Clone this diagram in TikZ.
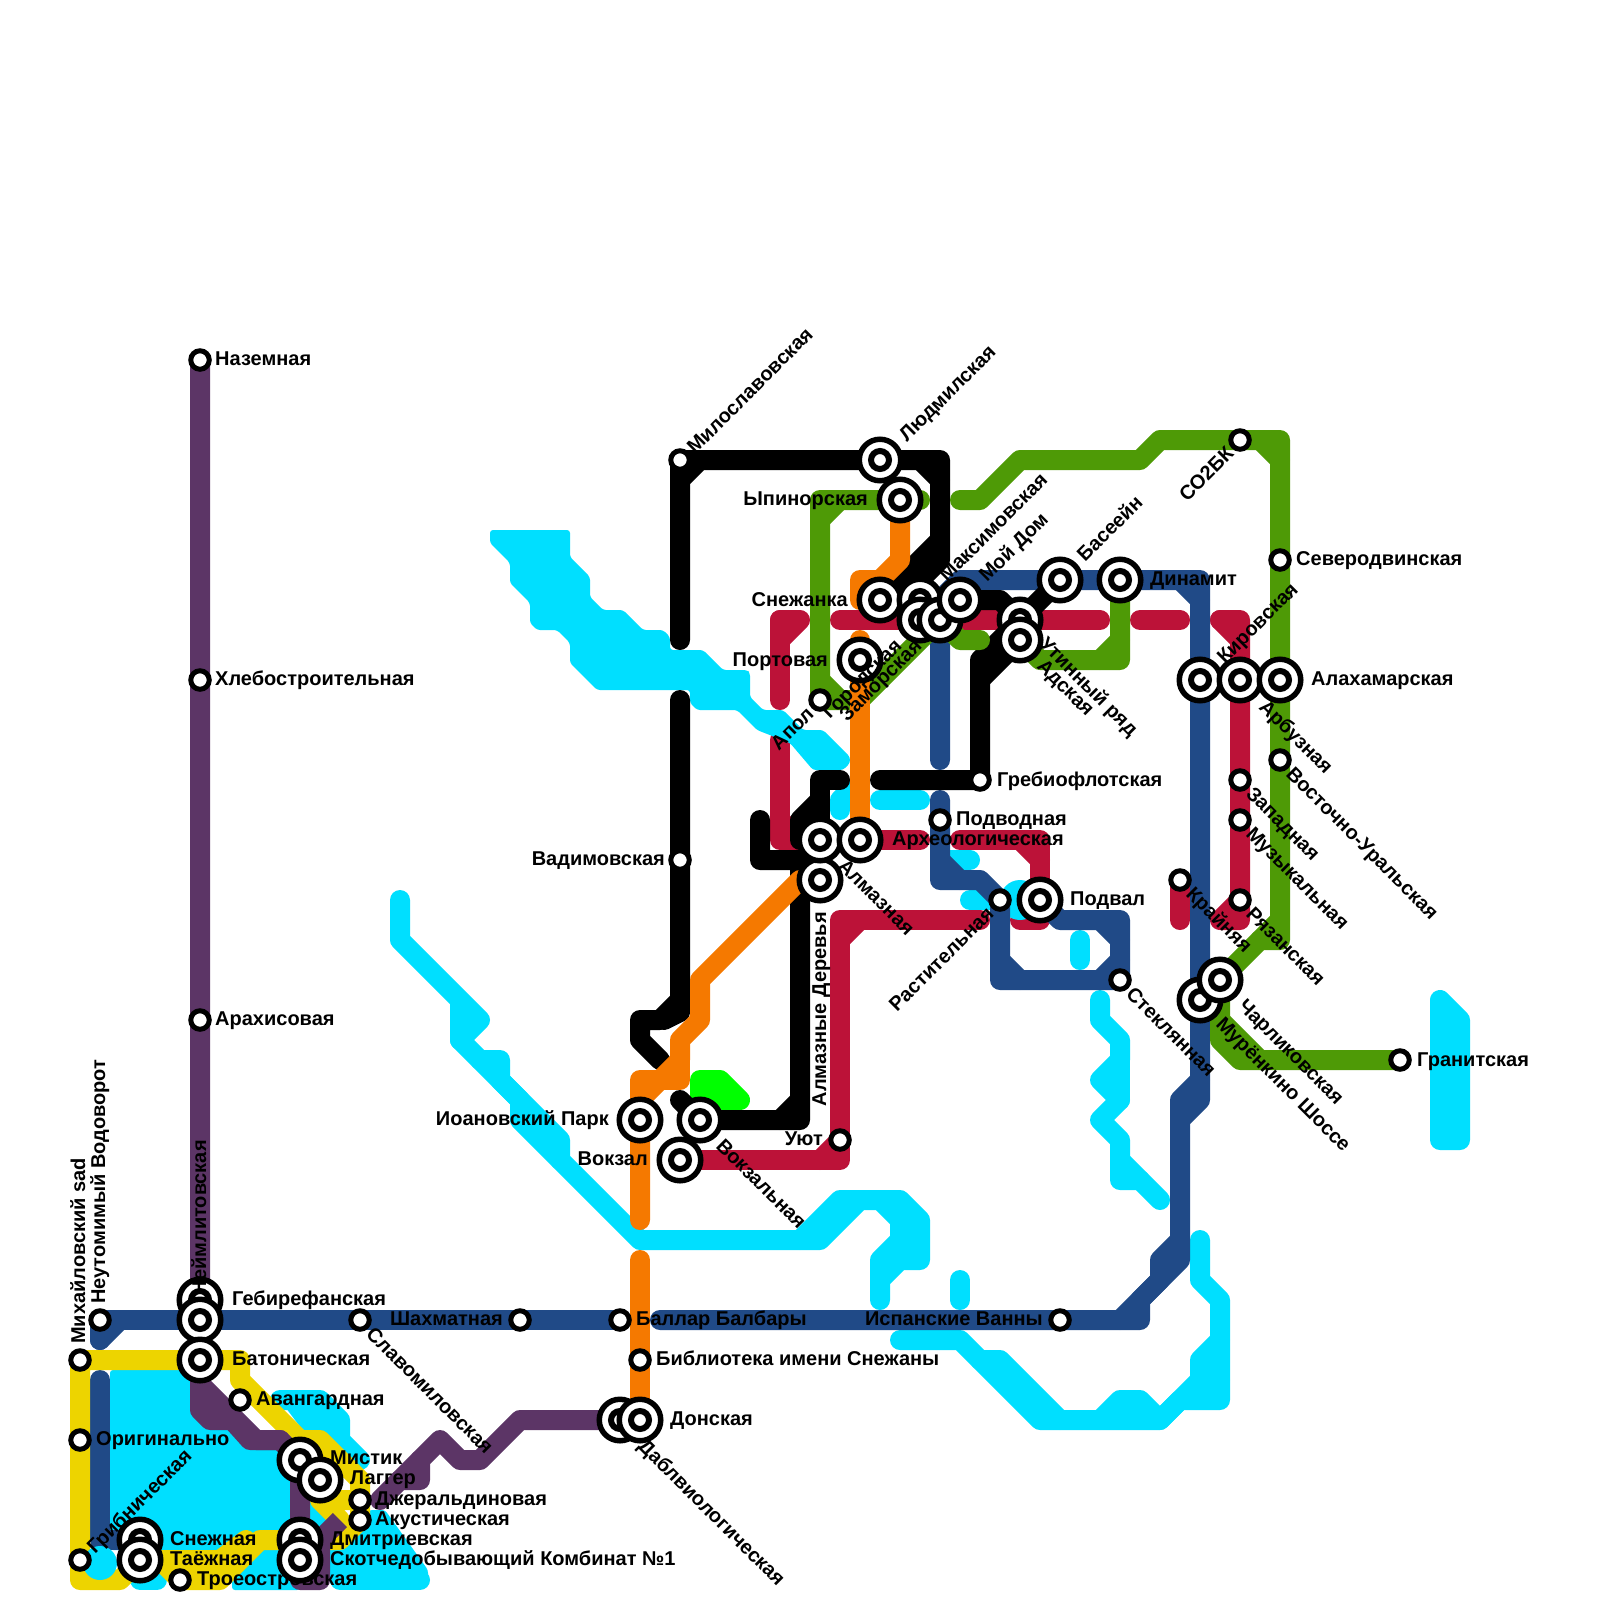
\documentclass[tikz,border=0pt]{standalone}
\usepackage{fontspec}
\setmainfont{Liberation Sans}
\usetikzlibrary{backgrounds}
\definecolor{lineblue}{RGB}{32,74,135}
\definecolor{linecrimson}{RGB}{188,18,56}
\definecolor{lineyellow}{RGB}{237,212,0}
\definecolor{linepurple}{RGB}{92,53,102}
\definecolor{linegreen}{RGB}{78,154,6}
\definecolor{lineorange}{RGB}{245,121,0}
\definecolor{linelime}{RGB}{0,255,0}
\definecolor{water}{RGB}{0,223,255}
\tikzset{
  metro/.style={line width=20pt,line cap=round,line join=round},
  basin/.style={fill=water,rounded corners=3pt},
  stn/.style={circle,draw=black,fill=white,line width=5pt,inner sep=0pt,minimum size=18.5pt},
  xchg/.style={circle,draw=black,fill=white,line width=5.5pt,inner sep=0pt,minimum size=41.5pt,
    path picture={\draw[line width=6pt,fill=white] (path picture bounding box.center) circle (9pt);}},
  lbl/.style={font=\fontsize{20}{20}\selectfont\bfseries,inner sep=0pt,text height=14pt,text depth=0pt},
}
\begin{document}
\begin{tikzpicture}[x=1pt,y=-1pt]
  \useasboundingbox (0,0) rectangle (1600,1600);
  %% Stations and labels: west side
  \node[stn] (nazemnaya) at (200,360) {};
  \node[lbl,anchor=west] (nazemnayaT) at (215,358) {Наземная};
  \node[stn] (hleb) at (200,680) {};
  \node[lbl,anchor=west] (hlebT) at (215,678) {Хлебостроительная};
  \node[stn] (arahis) at (200,1020) {};
  \node[lbl,anchor=west] (arahisT) at (215,1018) {Арахисовая};
  \node[xchg] (gebir) at (200,1300) {};
  \node[lbl,anchor=west] (gebirT) at (232,1298) {Гебирефанская};
  \node[lbl,rotate=90,anchor=east] (neymT) at (199,1140) {Неймлитовская};
  \node[xchg] (neym) at (200,1320) {};
  \node[xchg] (baton) at (200,1360) {};
  \node[lbl,anchor=west] (batonT) at (232,1358) {Батоническая};
  \node[stn] (neutom) at (100,1320) {};
  \node[lbl,rotate=90,anchor=west] (neutomT) at (98,1304) {Неутомимый Водоворот};
  \node[stn] (mihail) at (80,1360) {};
  \node[lbl,rotate=90,anchor=west] (mihailT) at (78,1344) {Михайловский sad};
  \node[stn] (origin) at (80,1440) {};
  \node[lbl,anchor=west] (originT) at (96,1438) {Оригинально};
  \node[stn] (gribn) at (80,1560) {};
  \node[lbl,rotate=45,anchor=west] (gribnT) at (90,1550) {Грибническая};
  \node[stn] (avang) at (240,1400) {};
  \node[lbl,anchor=west] (avangT) at (256,1398) {Авангардная};
  \node[xchg] (mistik) at (300,1460) {};
  \node[lbl,anchor=west] (mistikT) at (330,1457) {Мистик};
  \node[xchg] (lagger) at (320,1480) {};
  \node[lbl,anchor=west] (laggerT) at (350,1477) {Лаггер};
  \node[stn] (dzher) at (360,1500) {};
  \node[lbl,anchor=west] (dzherT) at (375,1498) {Джеральдиновая};
  \node[stn] (akust) at (360,1520) {};
  \node[lbl,anchor=west] (akustT) at (375,1518) {Акустическая};
  \node[xchg] (snezh) at (140,1540) {};
  \node[lbl,anchor=west] (snezhT) at (170,1538) {Снежная};
  \node[xchg] (taezh) at (140,1560) {};
  \node[lbl,anchor=west] (taezhT) at (170,1558) {Таёжная};
  \node[stn] (troe) at (180,1580) {};
  \node[lbl,anchor=west] (troeT) at (197,1578) {Троеостровская};
  \node[xchg] (dmitr) at (300,1540) {};
  \node[lbl,anchor=west] (dmitrT) at (330,1538) {Дмитриевская};
  \node[xchg] (skot) at (300,1560) {};
  \node[lbl,anchor=west] (skotT) at (330,1558) {Скотчедобывающий Комбинат №1};
  \node[stn] (slavom) at (360,1320) {};
  \node[lbl,rotate=-45,anchor=west] (slavomT) at (370,1330) {Славомиловская};
  \node[stn] (shahm) at (520,1320) {};
  \node[lbl,anchor=east] (shahmT) at (503,1318) {Шахматная};
  \node[stn] (ballar) at (620,1320) {};
  \node[lbl,anchor=west] (ballarT) at (636,1318) {Баллар Балбары};
  \node[stn] (bibl) at (640,1360) {};
  \node[lbl,anchor=west] (biblT) at (656,1358) {Библиотека имени Снежаны};
  \node[xchg] (dabl) at (620,1420) {};
  \node[lbl,rotate=-45,anchor=west] (dablT) at (642,1442) {Даблвиологическая};
  \node[xchg] (donsk) at (640,1420) {};
  \node[lbl,anchor=west] (donskT) at (670,1418) {Донская};
  %% Stations and labels: centre
  \node[stn] (milosl) at (680,460) {};
  \node[lbl,rotate=45,anchor=west] (mioslT) at (690,450) {Милославовская};
  \node[stn] (vadim) at (680,860) {};
  \node[lbl,anchor=east] (vadimT) at (665,858) {Вадимовская};
  \node[xchg] (ioan) at (640,1120) {};
  \node[lbl,anchor=east] (ioanT) at (609,1118) {Иоановский Парк};
  \node[xchg] (vokzal) at (680,1160) {};
  \node[lbl,anchor=east] (vokzalT) at (648,1158) {Вокзал};
  \node[xchg] (vokzaln) at (700,1120) {};
  \node[lbl,rotate=-45,anchor=west] (vokzalnT) at (720,1142) {Вокзальная};
  \node[stn] (uyut) at (840,1140) {};
  \node[lbl,anchor=east] (uyutT) at (823,1138) {Уют};
  \node[xchg] (almazd) at (820,880) {};
  \node[lbl,rotate=90,anchor=east] (almazdT) at (819,912) {Алмазные Деревья};
  \node[xchg] (almaz) at (820,840) {};
  \node[lbl,rotate=-45,anchor=west] (almazT) at (842,862) {Алмазная};
  \node[xchg] (arheo) at (860,840) {};
  \node[lbl,anchor=west] (arheoT) at (892,838) {Археологическая};
  \node[stn] (apol) at (820,700) {};
  \node[lbl,rotate=45,anchor=east] (apolT) at (810,710) {Апол};
  \node[xchg] (port) at (860,660) {};
  \node[lbl,anchor=east] (portT) at (828,659) {Портовая};
  \node[xchg] (lyudm) at (880,460) {};
  \node[lbl,rotate=45,anchor=west] (lyudmT) at (902,438) {Людмилская};
  \node[xchg] (ypin) at (900,500) {};
  \node[lbl,anchor=east] (ypinT) at (868,498) {Ыпинорская};
  \node[xchg] (snezhk) at (880,600) {};
  \node[lbl,anchor=east] (snezhkT) at (848,599) {Снежанка};
  \node[xchg] (maks) at (920,600) {};
  \node[lbl,rotate=45,anchor=west] (maksT) at (942,578) {Максимовская};
  \node[xchg] (gorod) at (920,620) {};
  \node[lbl,rotate=45,anchor=east] (gorodT) at (898,642) {Городская};
  \node[xchg] (zamor) at (940,620) {};
  \node[lbl,rotate=45,anchor=east] (zamorT) at (918,642) {Заморская};
  \node[xchg] (moydom) at (960,600) {};
  \node[lbl,rotate=45,anchor=west] (moydomT) at (982,578) {Мой Дом};
  \node[stn] (grebio) at (980,780) {};
  \node[lbl,anchor=west] (grebioT) at (997,779) {Гребиофлотская};
  \node[stn] (podvod) at (940,820) {};
  \node[lbl,anchor=west] (podvodT) at (956,818) {Подводная};
  \node[stn] (rast) at (1000,900) {};
  \node[lbl,rotate=45,anchor=east] (rastT) at (990,910) {Растительная};
  \node[xchg] (podval) at (1040,900) {};
  \node[lbl,anchor=west] (podvalT) at (1070,898) {Подвал};
  \node[xchg] (utin) at (1020,620) {};
  \node[lbl,rotate=-45,anchor=west] (utinT) at (1043,640) {Утинный ряд};
  \node[xchg] (adsk) at (1020,640) {};
  \node[lbl,rotate=-45,anchor=west] (adskT) at (1041,662) {Адская};
  \node[xchg] (basein) at (1060,580) {};
  \node[lbl,rotate=45,anchor=west] (baseinT) at (1080,558) {Басеейн};
  \node[xchg] (dinam) at (1120,580) {};
  \node[lbl,anchor=west] (dinamT) at (1150,578) {Динамит};
  %% Stations and labels: east side
  \node[stn] (so2bk) at (1240,440) {};
  \node[lbl,rotate=45,anchor=east] (so2bkT) at (1230,450) {СО2БК};
  \node[stn] (sever) at (1280,560) {};
  \node[lbl,anchor=west] (severT) at (1296,558) {Северодвинская};
  \node[xchg] (kirov) at (1200,680) {};
  \node[lbl,rotate=45,anchor=west] (kirovT) at (1220,660) {Кировская};
  \node[xchg] (arbuz) at (1240,680) {};
  \node[lbl,rotate=-45,anchor=west] (arbuzT) at (1263,703) {Арбузная};
  \node[xchg] (alaham) at (1280,680) {};
  \node[lbl,anchor=west] (alahamT) at (1311,678) {Алахамарская};
  \node[stn] (vostok) at (1280,760) {};
  \node[lbl,rotate=-45,anchor=west] (vostokT) at (1290,770) {Восточно-Уральская};
  \node[stn] (zapad) at (1240,780) {};
  \node[lbl,rotate=-45,anchor=west] (zapadT) at (1250,790) {Западная};
  \node[stn] (muzyk) at (1240,820) {};
  \node[lbl,rotate=-45,anchor=west] (muzykT) at (1250,830) {Музыкальная};
  \node[stn] (krayn) at (1180,880) {};
  \node[lbl,rotate=-45,anchor=west] (kraynT) at (1190,890) {Крайняя};
  \node[stn] (ryazan) at (1240,900) {};
  \node[lbl,rotate=-45,anchor=west] (ryazanT) at (1250,910) {Рязанская};
  \node[stn] (steklo) at (1120,980) {};
  \node[lbl,rotate=-45,anchor=west] (stekloT) at (1130,990) {Стеклянная};
  \node[xchg] (muren) at (1200,1000) {};
  \node[lbl,rotate=-45,anchor=west] (murenT) at (1220,1020) {Мурёнкино Шоссе};
  \node[xchg] (charl) at (1220,980) {};
  \node[lbl,rotate=-45,anchor=west] (charlT) at (1242,1002) {Чарликовская};
  \node[stn] (granit) at (1400,1060) {};
  \node[lbl,anchor=west] (granitT) at (1417,1059) {Гранитская};
  \node[stn] (ispan) at (1060,1320) {};
  \node[lbl,anchor=east] (ispanT) at (1043,1318) {Испанские Ванны};
  \begin{scope}[on background layer]
    %% Crimson line, under the river
    \draw[metro,linecrimson] (800,620) -- (780,640) -- (780,620) -- (800,620);
    \draw[metro,linecrimson] (780,620) -- (780,700);
    \draw[metro,linecrimson] (780,740) -- (780,840) -- (almaz.center) -- (arheo.center) -- (920,840);
    \draw[metro,linecrimson] (780,820) -- (800,840);
    \draw[metro,linecrimson] (960,840) -- (1040,840) -- (podval.center) -- (1040,920) -- (1020,920);
    \draw[metro,linecrimson] (1020,840) -- (1040,860);
    \draw[metro,linecrimson] (980,920) -- (840,920) -- (uyut.center) -- (840,1160) -- (vokzal.center);
    \draw[metro,linecrimson] (860,920) -- (840,940);
    \draw[metro,linecrimson] (820,1160) -- (uyut.center);
    \draw[metro,linecrimson] (840,620) -- (1100,620);
    \draw[metro,linecrimson] (1140,620) -- (1180,620);
    \draw[metro,linecrimson] (1220,620) -- (1240,620) -- (1240,920) -- (1220,920) -- (ryazan.center);
    \draw[metro,linecrimson] (1220,620) -- (1240,640);
    \draw[metro,linecrimson] (krayn.center) -- (1180,920);
    %% River and lakes
    \fill[basin] (490,530) -- (570,530) -- (570,557) -- (590,577) -- (590,597) -- (603,610) -- (623,610)
      -- (643,630) -- (663,630) -- (670,637) -- (670,650) -- (703,650) -- (723,670) -- (747,670)
      -- (750,673) -- (750,697) -- (763,710) -- (783,710) -- (803,730) -- (823,730) -- (850,757)
      -- (850,763) -- (843,770) -- (813,770) -- (790,743) -- (757,730) -- (737,710) -- (697,710)
      -- (690,703) -- (690,690) -- (597,690) -- (570,663) -- (570,643) -- (557,630) -- (537,630)
      -- (530,623) -- (530,603) -- (510,583) -- (510,563) -- (490,543) -- cycle;
    \draw[metro,water] (400,900) -- (400,940) -- (480,1020) -- (460,1040) -- (460,1000);
    \draw[metro,water] (460,1040) -- (560,1140) -- (560,1160) -- (640,1240) -- (820,1240) -- (860,1200)
      -- (900,1200) -- (920,1220) -- (920,1260) -- (900,1260) -- (880,1280) -- (880,1300);
    \draw[metro,water] (480,1060) -- (500,1060) -- (500,1080) -- (520,1100) -- (520,1120) -- (560,1160);
    \draw[metro,water] (800,1240) -- (840,1200) -- (860,1200);
    \draw[metro,water] (880,1200) -- (900,1220) -- (900,1240) -- (880,1260) -- (880,1280);
    \fill[water] (900,1220) rectangle (920,1260);
    \draw[metro,water] (960,1280) -- (960,1300);
    \draw[metro,water] (900,1340) -- (960,1340) -- (1040,1420) -- (1160,1420) -- (1180,1400) -- (1220,1400)
      -- (1220,1300) -- (1200,1280) -- (1200,1240);
    \draw[metro,water] (980,1360) -- (1000,1360) -- (1060,1420);
    \draw[metro,water] (1100,1420) -- (1120,1400) -- (1140,1400) -- (1160,1420) -- (1200,1380) -- (1200,1360) -- (1220,1340);
    \draw[metro,water] (1200,1380) -- (1220,1380);
    \draw[metro,water] (1100,1000) -- (1100,1020) -- (1120,1040) -- (1120,1060) -- (1100,1080) -- (1120,1100)
      -- (1100,1120) -- (1120,1140) -- (1120,1180) -- (1140,1180);
    \draw[metro,water] (1120,1060) -- (1120,1100);
    \draw[metro,water] (1120,1160) -- (1160,1200);
    \draw[metro,water] (1080,940) -- (1080,960);
    \draw[metro,water] (1440,1000) -- (1440,1140) -- (1460,1140) -- (1460,1020) -- cycle;
    \fill[water] (1440,1000) -- (1460,1020) -- (1460,1140) -- (1440,1140) -- cycle;
    \draw[metro,water] (880,800) -- (920,800);
    \draw[metro,water] (840,810) -- (840,800) -- (850,790);
    \draw[metro,water] (950,860) -- (970,860);
    \draw[metro,water] (970,900) -- (990,900);
    \fill[water] (1020,900) circle (20);
    \fill[basin] (110,1370) -- (200,1370) -- (200,1400) -- (240,1420) -- (260,1440) -- (290,1440) -- (290,1550) -- (110,1550) -- cycle;
    \draw[metro,water] (320,1490) -- (320,1520);
    \draw[metro,water] (280,1400) -- (320,1400) -- (340,1420) -- (340,1440) -- (360,1460);
    \fill[water] (280,1400) -- (330,1400) -- (350,1440) -- (310,1440) -- cycle;
    \draw[metro,water] (140,1580) -- (157,1580);
    \fill[basin] (256,1550) -- (232,1573) -- (232,1590) -- (300,1590) -- (300,1550) -- cycle;
    \fill[basin] (330,1530) -- (370,1510) -- (385,1510) -- (428,1570) -- (428,1585) -- (330,1585) -- cycle;
    \draw[metro,water] (340,1580) -- (420,1580);
    %% Blue line
    \draw[metro,lineblue] (100,1340) -- (neutom.center) -- (620,1320);
    \draw[metro,lineblue] (100,1340) -- (120,1320);
    \draw[metro,lineblue] (660,1320) -- (ispan.center) -- (1120,1320) -- (1180,1260) -- (1180,1100) -- (1200,1080)
      -- (1200,1100) -- (1180,1120);
    \draw[metro,lineblue] (1120,1320) -- (1140,1320) -- (1140,1300) -- (1160,1280) -- (1160,1260) -- (1180,1240);
    \draw[metro,lineblue] (1200,1080) -- (kirov.center) -- (1200,580) -- (dinam.center) -- (basein.center) -- (960,580) -- (940,600) -- (940,760);
    \draw[metro,lineblue] (1200,600) -- (1180,580);
    \draw[metro,lineblue] (940,800) -- (podvod.center) -- (940,880) -- (980,880) -- (rast.center) -- (1000,980) -- (1120,980) -- (1120,920) -- (1060,920) -- (podval.center);
    \draw[metro,lineblue] (940,860) -- (960,880);
    \draw[metro,lineblue] (1000,960) -- (1020,980);
    \draw[metro,lineblue] (1100,920) -- (1120,940);
    \draw[metro,lineblue] (1120,960) -- (1100,980);
    \draw[metro,lineblue] (100,1380) -- (100,1540) -- (snezh.center);
    %% Yellow line
    \draw[metro,lineyellow] (baton.center) -- (mihail.center) -- (80,1580) -- (120,1580) -- (taezh.center) -- (160,1560) -- (troe.center) -- (220,1580) -- (260,1540) -- (340,1540) -- (akust.center) -- (dzher.center) -- (360,1480) -- (320,1440) -- (300,1440) -- (240,1380) -- (240,1360) -- (baton.center);
    \draw[metro,lineyellow] (160,1560) -- (220,1560) -- (246,1540);
    \draw[metro,lineyellow] (340,1520) -- (320,1500) -- (360,1500);
    \fill[water] (100,1563) circle (17);
    %% Purple line
    \draw[metro,linepurple] (nazemnaya.center) -- (baton.center) -- (200,1410) -- (210,1420) -- (232,1420) -- (250,1440) -- (280,1440) -- (mistik.center) -- (dmitr.center) -- (300,1580) -- (320,1580) -- (320,1540);
    \draw[metro,linepurple] (200,1384) -- (256,1440) -- (280,1440);
    \draw[linepurple,line width=20pt] (320,1540) -- (340,1520);
    \draw[metro,linepurple] (380,1500) -- (400,1480) -- (420,1480) -- (420,1460) -- (440,1440) -- (460,1460) -- (480,1460) -- (520,1420) -- (dabl.center);
    \draw[metro,linepurple] (400,1480) -- (420,1460);
    %% Lime stub
    \filldraw[metro,linelime] (700,1080) -- (720,1080) -- (740,1100) -- (700,1100) -- cycle;
    %% Black line
    \draw[metro,black] (680,640) -- (milosl.center) -- (680,480) -- (700,460) -- (940,460) -- (940,540) -- (snezhk.center);
    \draw[metro,black] (680,480) -- (milosl.center) -- (700,460);
    \draw[metro,black] (920,460) -- (940,480);
    \draw[metro,black] (940,540) -- (940,560) -- (900,600);
    \draw[metro,black] (880,600) -- (1000,600) -- (1020,620);
    \draw[metro,black] (880,780) -- (960,780) -- (grebio.center) -- (980,660) -- (1020,620) -- (basein.center);
    \draw[metro,black] (980,680) -- (1020,640);
    \draw[metro,black] (680,700) -- (680,1000) -- (660,1020) -- (640,1020) -- (640,1040) -- (660,1060);
    \draw[metro,black] (680,1000) -- (680,1012) -- (664,1020);
    \draw[metro,black] (840,780) -- (820,780) -- (820,840);
    \draw[metro,black] (820,800) -- (800,820) -- (800,840);
    \draw[metro,black] (760,820) -- (760,860) -- (800,860) -- (800,1120) -- (700,1120) -- (680,1100);
    \draw[metro,black] (780,1120) -- (800,1100);
    %% Green line
    \draw[metro,linegreen] (ypin.center) -- (920,500);
    \draw[metro,linegreen] (ypin.center) -- (820,500) -- (820,700) -- (860,700) -- (940,620) -- (960,640) -- (980,640);
    \draw[metro,linegreen] (820,520) -- (840,500);
    \draw[metro,linegreen] (820,680) -- (840,700);
    \draw[metro,linegreen] (dinam.center) -- (1120,660) -- (1040,660) -- (1030,650);
    \draw[metro,linegreen] (1120,640) -- (1100,660);
    \draw[metro,linegreen] (960,500) -- (980,500) -- (1020,460) -- (1140,460) -- (1160,440) -- (1280,440) -- (1280,940) -- (1260,940) -- (charl.center) -- (muren.center);
    \draw[metro,linegreen] (1260,440) -- (1280,460);
    \draw[metro,linegreen] (1280,920) -- (1260,940);
    \draw[metro,linegreen] (charl.center) -- (1220,1040) -- (1240,1060) -- (granit.center);
    \draw[metro,linegreen] (1220,1020) -- (1260,1060);
    %% Orange line
    \draw[metro,lineorange] (640,1260) -- (donsk.center);
    \draw[metro,lineorange] (640,1220) -- (640,1080) -- (660,1080) -- (680,1060) -- (680,1040) -- (700,1020) -- (700,980) -- (800,880) -- (almazd.center);
    \draw[metro,lineorange] (660,1080) -- (680,1080) -- (680,1060);
    \draw[metro,lineorange] (640,1100) -- (660,1080);
    \draw[metro,lineorange] (860,640) -- (arheo.center);
    \draw[metro,lineorange] (860,600) -- (860,580) -- (880,580) -- (900,560) -- (900,500);
  \end{scope}
\end{tikzpicture}
\end{document}
